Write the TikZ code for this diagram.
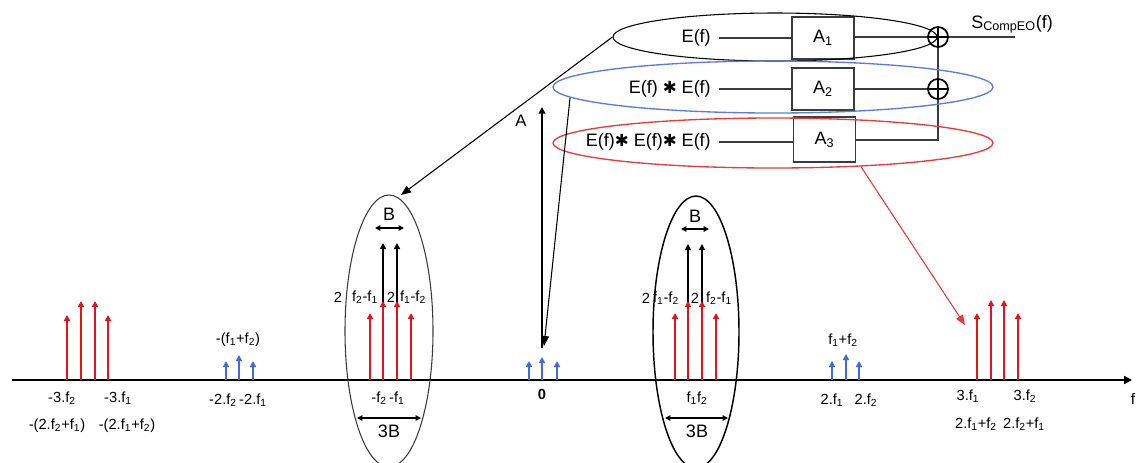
\documentclass[tikz,border=0pt]{standalone}
\usepackage{fontspec}
\setmainfont{Liberation Sans}
\newfontfamily\djv{DejaVu Sans}
\usetikzlibrary{arrows.meta,shapes.geometric}
\newcommand\lo[1]{\textsubscript{#1}}
\newcommand\conv{{\djv\fontsize{12.5}{12}\selectfont ✱}}
\definecolor{sred}{RGB}{225,20,25}
\definecolor{sblue}{RGB}{65,105,225}
\definecolor{eblue}{RGB}{90,125,220}
\definecolor{ered}{RGB}{230,60,60}
\definecolor{dgray}{RGB}{60,60,60}
\begin{document}
\begin{tikzpicture}[x=0.75pt,y=-0.75pt,
  font=\fontsize{11}{12}\selectfont,
  tip/.style={-{Triangle[width=4.5pt,length=4.5pt]}},
  redarr/.style={tip,draw=sred,line width=2pt},
  bluearr/.style={tip,draw=sblue,line width=1.6pt},
  bluemid/.style={tip,draw=sblue,line width=2.2pt},
  blackarr/.style={tip,draw=black,line width=1.6pt},
  dbl/.style={{Triangle[width=4pt,length=4pt]}-{Triangle[width=4pt,length=4pt]},line width=1.1pt},
  lbl/.style={inner sep=1pt},
  big/.style={inner sep=1pt,font=\fontsize{13.5}{15}\selectfont},
  ell/.style={draw,ellipse,inner sep=0pt},
  gain/.style={draw=dgray,line width=0.8pt,minimum width=46.5pt,minimum height=31.5pt,inner sep=0pt,font=\fontsize{13.5}{15}\selectfont},
  sum/.style={draw=black,circle,line width=1.3pt,minimum size=15pt,inner sep=0pt},
  wire/.style={draw=dgray,line width=0.8pt},
  pointer/.style={-{Triangle[width=6pt,length=7.5pt]},line width=0.8pt}
]
\clip (0,0) rectangle (1139,462);
\fill[white] (0,0) rectangle (1139,462);

% ---------- axis ----------
\coordinate (ax0) at (12,380);
\coordinate (ax1) at (1132,380);
\draw[line width=1.9pt,-{Triangle[width=6pt,length=6pt]}] (ax0) -- (ax1);
\node[lbl,font=\fontsize{11.5}{12}\selectfont] (flab) at (1133,399) {f};

% ---------- big A arrow ----------
\coordinate (abase) at (542,348);
\coordinate (atop) at (542,107);
\draw[line width=2.2pt,-{Triangle[width=5pt,length=5pt]}] (abase) -- (atop);
\node[big,font=\fontsize{12.5}{14}\selectfont] (alab) at (521,121) {A};

% ---------- far left red group ----------
\draw[redarr] (67,380) -- (67,315);
\draw[redarr] (81,380) -- (81,301);
\draw[redarr] (95,380) -- (95,301);
\draw[redarr] (108,380) -- (108,315);
\node[lbl] (m3f2) at (62,398) {-3.f\lo2};
\node[lbl] (m3f1) at (118,398) {-3.f\lo1};
\node[lbl] (m2f2f1) at (57,426) {-(2.f\lo2+f\lo1)};
\node[lbl] (m2f1f2) at (127,426) {-(2.f\lo1+f\lo2)};

% ---------- left blue group ----------
\draw[bluearr] (226,380) -- (226,361);
\draw[bluemid] (239,380) -- (239,355);
\draw[bluearr] (253,380) -- (253,361);
\node[lbl] (msum) at (238,340) {-(f\lo1+f\lo2)};
\node[lbl] (m2f) at (238,400) {-2.f\lo2\,-2.f\lo1};

% ---------- left ellipse group ----------
\draw[blackarr] (383,380) -- (383,243);
\draw[blackarr] (397,380) -- (397,243);
\draw[redarr] (370,380) -- (370,313);
\draw[redarr] (383,380) -- (383,301);
\draw[redarr] (397,380) -- (397,301);
\draw[redarr] (411,380) -- (411,313);
\node[ell,draw=dgray,line width=0.8pt,minimum width=66pt,minimum height=204pt] (lell) at (389,331) {};
\node[lbl] (l2a) at (338,297) {2};
\node[lbl] (lfa) at (365,297) {f\lo2-f\lo1};
\node[lbl] (l2b) at (391,297) {2};
\node[lbl] (lfb) at (413,297) {f\lo1-f\lo2};
\node[big] (lB) at (389,214) {B};
\coordinate (lBa) at (375,228); \coordinate (lBb) at (404,228);
\draw[dbl] (lBa) -- (lBb);
\node[lbl] (lf) at (388,398) {-f\lo2\,-f\lo1};
\coordinate (l3a) at (357,418); \coordinate (l3b) at (421,418);
\draw[dbl] (l3a) -- (l3b);
\node[big] (l3B) at (389,431) {3B};

% ---------- centre blue group ----------
\draw[bluearr] (529,380) -- (529,361);
\draw[bluemid] (542,380) -- (542,357);
\draw[bluearr] (557,380) -- (557,361);
\node[lbl,font=\bfseries\fontsize{11}{12}\selectfont] (zero) at (542,394) {0};

% ---------- right ellipse group ----------
\draw[blackarr] (688,380) -- (688,244);
\draw[blackarr] (702,380) -- (702,244);
\draw[redarr] (675,380) -- (675,313);
\draw[redarr] (688,380) -- (688,301);
\draw[redarr] (702,380) -- (702,301);
\draw[redarr] (716,380) -- (716,313);
\node[ell,draw=black,line width=1.1pt,minimum width=64.5pt,minimum height=204pt] (rell) at (696,332) {};
\node[lbl] (r2a) at (646,298) {2};
\node[lbl] (rfa) at (666,298) {f\lo1-f\lo2};
\node[lbl] (r2b) at (695,298) {2};
\node[lbl] (rfb) at (719,298) {f\lo2-f\lo1};
\node[big] (rB) at (695,216) {B};
\coordinate (rBa) at (681,229); \coordinate (rBb) at (709,229);
\draw[dbl] (rBa) -- (rBb);
\node[lbl] (rf) at (697,398) {f\lo1f\lo2};
\coordinate (r3a) at (665,418); \coordinate (r3b) at (728,418);
\draw[dbl] (r3a) -- (r3b);
\node[big] (r3B) at (697,431) {3B};

% ---------- right blue group ----------
\draw[bluearr] (832,380) -- (832,361);
\draw[bluemid] (846,380) -- (846,354);
\draw[bluearr] (859,380) -- (859,361);
\node[lbl] (psum) at (843,340) {f\lo1+f\lo2};
\node[lbl] (p2f1) at (832,400) {2.f\lo1};
\node[lbl] (p2f2) at (866,400) {2.f\lo2};

% ---------- far right red group ----------
\draw[redarr] (977,380) -- (977,313);
\draw[redarr] (991,380) -- (991,300);
\draw[redarr] (1004,380) -- (1004,300);
\draw[redarr] (1018,380) -- (1018,313);
\node[lbl] (p3f1) at (968,396) {3.f\lo1};
\node[lbl] (p3f2) at (1025,396) {3.f\lo2};
\node[lbl] (p2f1f2) at (976,424) {2.f\lo1+f\lo2};
\node[lbl] (p2f2f1) at (1024,424) {2.f\lo2+f\lo1};

% ---------- block diagram ----------
\node[gain] (g1) at (823,38) {A\lo1};
\node[gain] (g2) at (823,89) {A\lo2};
\node[gain,minimum height=33.75pt] (g3) at (824.5,139.5) {A\lo3};
\node[big,anchor=east,inner xsep=6pt] (e1) at (719,38) {E(f)};
\node[big,anchor=east,inner xsep=6pt] (e2) at (719,89) {E(f) \conv{} E(f)};
\node[big,anchor=east,inner xsep=6pt] (e3) at (719,142) {E(f)\conv{} E(f)\conv{} E(f)};
\draw[wire] (e1.east) -- (g1.west);
\draw[wire] (e2.east) -- (g2.west |- e2.east);
\draw[wire] (e3.east) -- (g3.west |- e3.east);
\node[sum] (s1) at (938,37) {};
\node[sum] (s2) at (938,89) {};
\draw[line width=1pt] (s1.north) -- (s1.south) (s1.west) -- (s1.east);
\draw[line width=1pt] (s2.north) -- (s2.south) (s2.west) -- (s2.east);
\draw[wire] (g1.east |- s1) -- (s1.west);
\draw[wire] (g2.east) -- (s2.west);
\draw[wire] (g3.east |- 0,140) -| (s2.south);
\draw[wire] (s2.north) -- (s1.south);
\coordinate (out) at (1015,37);
\draw[wire] (s1.east) -- (out);
\node[anchor=base west,inner sep=0pt,font=\fontsize{13.5}{15}\selectfont] (slab) at (971,28) {S\textsubscript{CompEO}(f)};

% ---------- selection ellipses ----------
\node[ell,draw=black,line width=0.8pt,minimum width=243pt,minimum height=36pt] (topell) at (775,37) {};
\node[ell,draw=eblue,line width=1pt,minimum width=330pt,minimum height=39pt] (blueell) at (773,87) {};
\node[ell,draw=ered,line width=1pt,minimum width=330pt,minimum height=37.5pt] (redell) at (773,143) {};

% ---------- pointers ----------
\coordinate (ltarget) at (401,195);
\draw[pointer] (topell.west) -- (ltarget);
\coordinate (bstart) at (570,98);
\coordinate (btarget) at (544,346);
\draw[pointer] (bstart) -- (btarget);
\coordinate (rtarget) at (965,325);
\draw[pointer,draw=ered,fill=ered] (redell.-15) -- (rtarget);
\end{tikzpicture}
\end{document}
